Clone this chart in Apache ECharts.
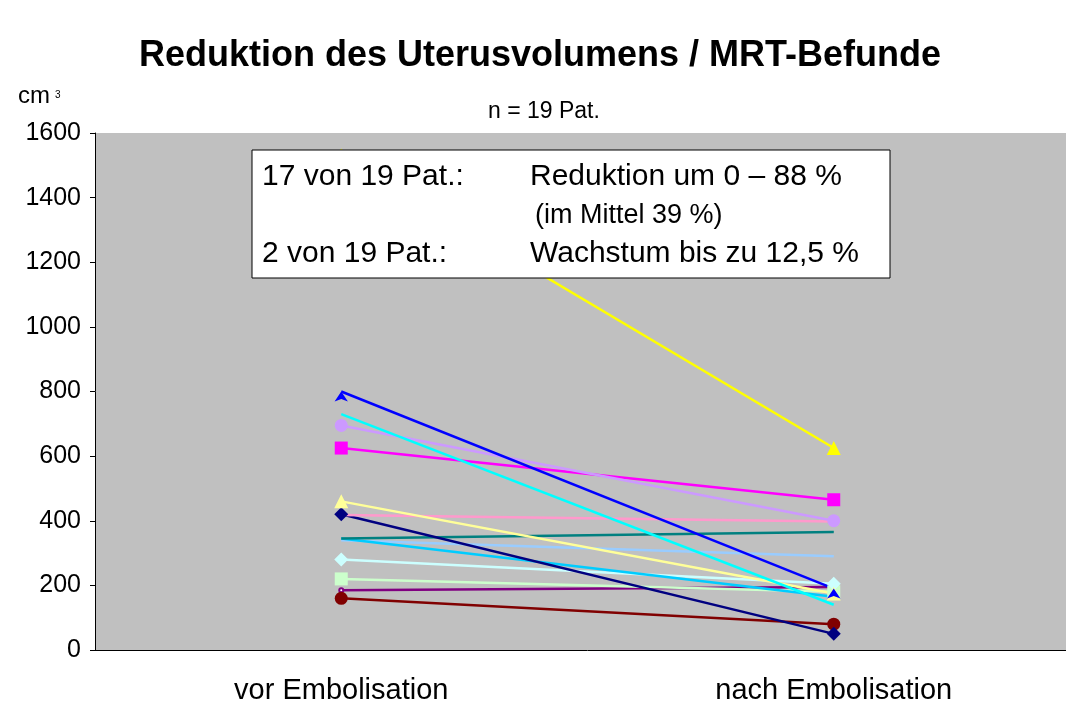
<!DOCTYPE html>
<html><head><meta charset="utf-8">
<script src="https://cdn.jsdelivr.net/npm/echarts@6/dist/echarts.min.js"></script>
<style>html,body{margin:0;background:#fff}#c{width:1080px;height:720px}</style>
</head><body><div id="c"></div>
<script>
var categories = ['vor Embolisation', 'nach Embolisation'];
var patYellow = [1530, 625];
var patBlue = [800, 190];
var patCyan = [730, 140];
var patLavender = [695, 400];
var patMagenta = [625, 465];
var patLightYellow = [460, 175];
var patPink = [418, 398];
var patNavy = [420, 50];
var patTeal = [345, 365];
var patSky = [345, 165];
var patLightBlue = [340, 290];
var patLightCyan = [280, 205];
var patLightGreen = [220, 180];
var patPurple = [185, 195];
var patDarkRed = [160, 80];
var yTicks = [0, 200, 400, 600, 800, 1000, 1200, 1400, 1600];

function s(data, color, symbol, size) {
  return { type: 'line', data: data, symbol: symbol, symbolSize: size || 12,
    lineStyle: { color: color, width: 2.5 }, itemStyle: { color: color }, z: 3 };
}
var series = [
  s(patLightBlue, '#99ccff', 'none'),
  s(patPurple, '#800080', 'emptyCircle', 4),
  s(patDarkRed, '#800000', 'circle', 13),
  s(patLightGreen, '#ccffcc', 'rect', 13),
  s(patLightCyan, '#ccffff', 'diamond', 14),
  s(patSky, '#00ccff', 'none'),
  s(patTeal, '#008080', 'pin', 1),
  s(patNavy, '#000080', 'diamond', 14),
  s(patPink, '#ff99cc', 'none'),
  s(patLightYellow, '#ffff99', 'triangle', 14),
  s(patMagenta, '#ff00ff', 'rect', 13),
  s(patLavender, '#cc99ff', 'circle', 13),
  s(patCyan, '#00ffff', 'none'),
  s(patBlue, '#0000ff', 'arrow', 10),
  s(patYellow, '#ffff00', 'triangle', 14)
];

var chart = echarts.init(document.getElementById('c'));
chart.setOption({
  animation: false,
  title: [
    { text: 'Reduktion des Uterusvolumens / MRT-Befunde', left: 'center', top: 33,
      textStyle: { fontFamily: 'Liberation Sans', fontSize: 36, fontWeight: 'bold', color: '#000' } },
    { text: 'n = 19 Pat.', left: 483, top: 95,
      textStyle: { fontFamily: 'Liberation Sans', fontSize: 23, fontWeight: 'normal', color: '#000' } }
  ],
  grid: { left: 95, right: -131, top: 133, bottom: 70, backgroundColor: '#c0c0c0', show: true, borderWidth: 0 },
  xAxis: {
    type: 'category', data: categories, boundaryGap: true,
    axisLine: { lineStyle: { color: '#000', width: 1 } },
    axisTick: { lineStyle: { color: '#000' }, length: 6 },
    axisLabel: { fontFamily: 'Liberation Sans', fontSize: 29, color: '#000', margin: 26 }
  },
  yAxis: {
    type: 'value', min: 0, max: 1600, interval: 200,
    axisLine: { show: true, lineStyle: { color: '#000' } },
    axisTick: { show: true, lineStyle: { color: '#000' } },
    splitLine: { show: false },
    axisLabel: { fontFamily: 'Liberation Sans', fontSize: 25, color: '#000', margin: 14,
      formatter: function (v) { return yTicks.indexOf(v) >= 0 ? String(v) : ''; } }
  },
  graphic: [
    { type: 'rect', shape: { x: 1066, y: 120, width: 20, height: 560 }, style: { fill: '#fff' }, z: 100 },
    { type: 'text', left: 18, top: 84, style: { text: 'cm', font: '24px Liberation Sans', fill: '#000' } },
    { type: 'text', left: 55, top: 90, style: { text: '3', font: '10px Liberation Sans', fill: '#000' } },
    { type: 'rect', shape: { x: 252, y: 150, width: 638, height: 128 },
      style: { fill: '#fff', stroke: '#000', lineWidth: 1 }, z: 10 },
    { type: 'text', x: 262, y: 162, z: 11, style: { text: '17 von 19 Pat.:', font: '30px Liberation Sans', fill: '#000' } },
    { type: 'text', x: 530, y: 162, z: 11, style: { text: 'Reduktion um 0 – 88 %', font: '30px Liberation Sans', fill: '#000' } },
    { type: 'text', x: 535, y: 202, z: 11, style: { text: '(im Mittel 39 %)', font: '27px Liberation Sans', fill: '#000' } },
    { type: 'text', x: 262, y: 239, z: 11, style: { text: '2 von 19 Pat.:', font: '30px Liberation Sans', fill: '#000' } },
    { type: 'text', x: 530, y: 239, z: 11, style: { text: 'Wachstum bis zu 12,5 %', font: '30px Liberation Sans', fill: '#000' } }
  ],
  series: series
});
</script>
</body></html>
